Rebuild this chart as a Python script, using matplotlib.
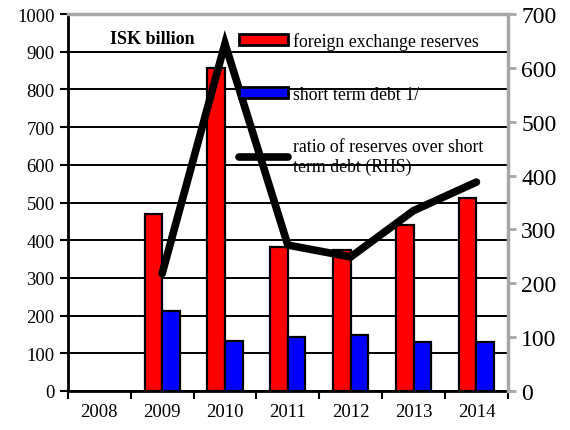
import numpy as np
import matplotlib.pyplot as plt
from matplotlib.patches import Patch
from matplotlib.lines import Line2D

plt.rcParams['font.family'] = ['Liberation Serif', 'DejaVu Serif']

anios = ["2008", "2009", "2010", "2011", "2012", "2013", "2014"]
reservas = [np.nan, 470, 857, 382, 373, 441, 512]
deuda_corto = [np.nan, 212, 133, 142, 149, 131, 131]
ratio = [np.nan, 218, 645, 271, 249, 335, 388]

x = np.arange(len(anios))
ancho = 0.28
gris = "#a6a6a6"

fig = plt.figure(figsize=(5.7, 4.31), dpi=100)
ax = fig.add_axes([0.119, 0.0905, 0.772, 0.8745])

# Barras
ax.bar(x - ancho / 2, reservas, ancho, color="#ff0000", edgecolor="black", linewidth=1.6, zorder=3)
ax.bar(x + ancho / 2, deuda_corto, ancho, color="#0000ff", edgecolor="black", linewidth=1.6, zorder=3)

ax.set_xlim(-0.5, len(anios) - 0.5)
ax.set_ylim(0, 1000)
ax.set_yticks(np.arange(0, 1001, 100))
ax.yaxis.grid(True, color="black", linewidth=1.4)
ax.set_axisbelow(True)

ax.set_xticks(x)
ax.set_xticklabels(anios, fontsize=13.5)
ax.set_xticks(np.arange(-0.5, len(anios)), minor=True)
ax.tick_params(axis="x", which="major", length=0, pad=9)
ax.tick_params(axis="x", which="minor", length=6, width=1.5, direction="out")
ax.tick_params(axis="y", labelsize=13.5, length=6, width=1.5, direction="out")

for lado in ["left", "bottom"]:
    ax.spines[lado].set_linewidth(2)
    ax.spines[lado].set_color("black")
ax.spines["top"].set_color(gris)
ax.spines["top"].set_linewidth(2.5)
ax.spines["right"].set_visible(False)

# Eje derecho
ax2 = ax.twinx()
ax2.plot(x, ratio, color="black", linewidth=5.5, solid_capstyle="round", solid_joinstyle="miter", zorder=5)
ax2.set_ylim(0, 700)
ax2.set_yticks(np.arange(0, 701, 100))
ax2.tick_params(axis="y", labelsize=17, length=6, width=2, color=gris, direction="out")
ax2.spines["right"].set_color(gris)
ax2.spines["right"].set_linewidth(2.5)
for lado in ["left", "top", "bottom"]:
    ax2.spines[lado].set_visible(False)

ax.text(0.095, 0.935, "ISK billion", transform=ax.transAxes, fontsize=13,
        fontweight="bold", ha="left", va="center")

manijas = [
    Patch(facecolor="#ff0000", edgecolor="black", linewidth=2),
    Patch(facecolor="#0000ff", edgecolor="black", linewidth=2),
    Line2D([0], [0], color="black", linewidth=5.5, solid_capstyle="round"),
]
etiquetas = ["foreign exchange reserves", "short term debt 1/",
             "ratio of reserves over short\nterm debt (RHS)"]
leg = ax2.legend(manijas, etiquetas, loc="upper left", bbox_to_anchor=(0.36, 0.985),
                 frameon=False, fontsize=12.8, handlelength=2.8, handleheight=0.55,
                 handletextpad=0.25, labelspacing=2.0, borderaxespad=0.3)

fig.savefig("out.png", dpi=100)
plt.close(fig)
